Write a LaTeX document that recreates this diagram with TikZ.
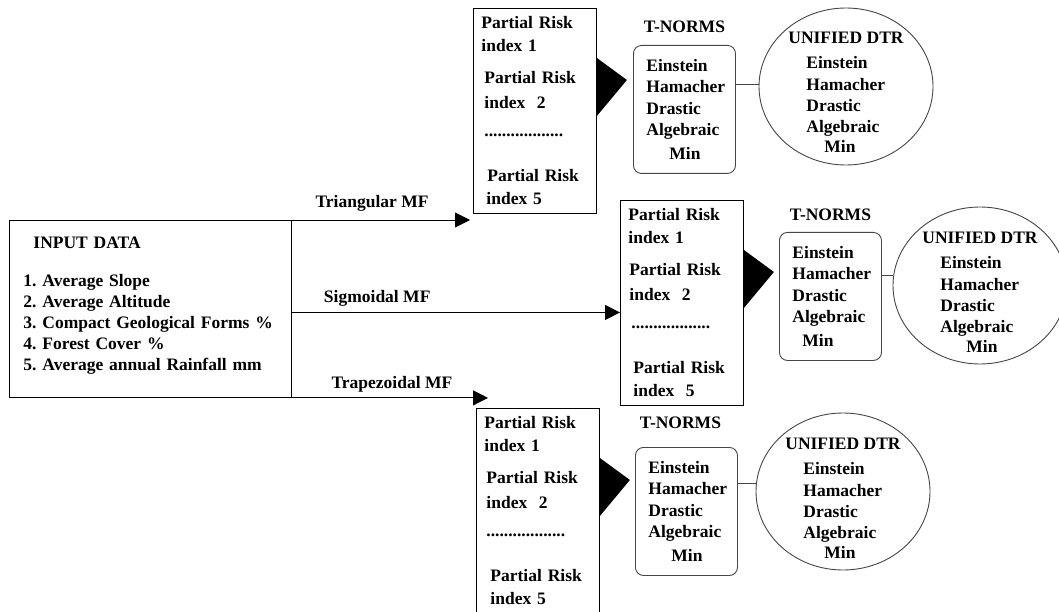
\documentclass[tikz,border=0pt]{standalone}
\usepackage{fontspec}
\setmainfont{Liberation Serif}
\usepackage{tikz}
\usetikzlibrary{positioning,arrows.meta,shapes.geometric,calc}
\definecolor{LineGray}{RGB}{70,70,70}
\definecolor{DarkText}{RGB}{0,0,0}
\frenchspacing

\begin{document}
\begin{tikzpicture}[x=1pt, y=1pt,
    every node/.style={font=\fontsize{17.5}{23}\selectfont\bfseries, text=DarkText},
    datbox/.style={rectangle, draw=black, line width=0.9pt, anchor=north west,
        minimum width=282pt, minimum height=177pt, text width=254pt, inner xsep=14pt,
        inner ysep=0pt, align=left, font=\fontsize{17.5}{21}\selectfont\bfseries},
    pribox/.style={rectangle, draw=black, line width=0.9pt, anchor=north west,
        minimum width=123pt, minimum height=205pt, text width=107pt, inner xsep=8pt,
        inner ysep=0pt, align=left},
    tnbox/.style={rectangle, rounded corners=8pt, draw=LineGray, line width=0.9pt, anchor=north west,
        minimum width=102pt, minimum height=128pt, text width=76pt, inner xsep=13pt,
        inner ysep=0pt, align=left, font=\fontsize{17.5}{21.5}\selectfont\bfseries},
    tnlab/.style={inner sep=2pt},
    dtrring/.style={ellipse, draw=LineGray, line width=0.9pt, minimum width=174pt,
        minimum height=157pt, inner sep=0pt},
    dtrtext/.style={inner sep=0pt, align=left, font=\fontsize{17.5}{21}\selectfont\bfseries},
    mflab/.style={inner sep=2pt},
    link/.style={draw=LineGray, line width=0.9pt},
    arr/.style={draw=black, line width=0.9pt, -{Triangle[length=15pt, width=15pt]}}
]
\useasboundingbox (0,0) rectangle (1059,-612);

% input data
\node[datbox] (inp) at (9,-220) {\hspace*{10pt}INPUT DATA\\[17pt]
1. Average Slope\\
2. Average Altitude\\
3. Compact Geological Forms \%\\
4. Forest Cover \%\\
5. Average annual Rainfall mm\rule[-11pt]{0pt}{0pt}};

% partial risk indices
\node[pribox] (pri1) at (473,-8) {Partial Risk\\
index 1\\[9pt]
\hspace*{3pt}Partial Risk\\[2pt]
\hspace*{3pt}index\ \ 2\\[5pt]
\hspace*{3pt}..................\\[22pt]
\hspace*{6pt}Partial Risk\\
\hspace*{5pt}index 5};
\node[pribox] (pri2) at (620,-200) {Partial Risk\\
index 1\\[9pt]
\hspace*{1pt}Partial Risk\\[2pt]
\hspace*{1pt}index\ \ 2\\[5pt]
\hspace*{3pt}..................\\[22pt]
\hspace*{5pt}Partial Risk\\
\hspace*{5pt}index\ \ 5};
\node[pribox] (pri3) at (476,-408) {Partial Risk\\
index 1\\[9pt]
\hspace*{2pt}Partial Risk\\[2pt]
\hspace*{2pt}index\ \ 2\\[5pt]
\hspace*{2pt}..................\\[22pt]
\hspace*{6pt}Partial Risk\\
\hspace*{6pt}index 5};

% t-norms
\node[tnbox] (tn1) at (633,-45) {Einstein\\ Hamacher\\ Drastic\\ Algebraic\\[2.5pt] \hspace*{23pt}Min};
\node[tnbox] (tn2) at (779,-232) {Einstein\\ Hamacher\\ Drastic\\ Algebraic\\[2.5pt] \hspace*{10pt}Min};
\node[tnbox] (tn3) at (635,-447) {Einstein\\ Hamacher\\ Drastic\\ Algebraic\\[2.5pt] \hspace*{23pt}Min};
\node[tnlab, above=10pt of tn1] (tn1lab) {T-NORMS};
\node[tnlab, above=9pt of tn2] (tn2lab) {T-NORMS};
\node[tnlab, above=16pt of tn3, xshift=-6pt] (tn3lab) {T-NORMS};

% unified dtr
\node[dtrring] (dtr1) at (846,-86.5) {};
\node[dtrring] (dtr2) at (980,-285.5) {};
\node[dtrring] (dtr3) at (843,-491.5) {};
\node[dtrtext] (dtr1txt) at (dtr1) {\rule{0pt}{24pt}UNIFIED DTR\\[4pt]
\hspace*{18pt}Einstein\\[1pt] \hspace*{18pt}Hamacher\\ \hspace*{18pt}Drastic\\
\hspace*{18pt}Algebraic\\[-1pt] \hspace*{36pt}Min};
\node[dtrtext] (dtr2txt) at (dtr2) {\rule{0pt}{24pt}UNIFIED DTR\\[4pt]
\hspace*{18pt}Einstein\\[1pt] \hspace*{18pt}Hamacher\\ \hspace*{18pt}Drastic\\
\hspace*{18pt}Algebraic\\[-1pt] \hspace*{44pt}Min};
\node[dtrtext] (dtr3txt) at (dtr3) {\rule{0pt}{24pt}UNIFIED DTR\\[4pt]
\hspace*{18pt}Einstein\\[1pt] \hspace*{18pt}Hamacher\\ \hspace*{18pt}Drastic\\
\hspace*{18pt}Algebraic\\[-1pt] \hspace*{39pt}Min};

% membership function arrows
\coordinate (triEnd) at ([xshift=-3pt]inp.north east -| pri1.west);
\coordinate (sigEnd) at ([yshift=-3.5pt]inp.east -| pri2.west);
\coordinate (trapEnd) at ([xshift=12pt]inp.south east -| pri3.west);
\draw[arr] (inp.north east) -- (triEnd) node[mflab, above=6pt, pos=0.45] (triLab) {Triangular MF};
\draw[arr] ([yshift=-3.5pt]inp.east) -- (sigEnd) node[mflab, above=4pt, pos=0.26] (sigLab) {Sigmoidal MF};
\draw[arr] (inp.south east) -- (trapEnd) node[mflab, above=3pt, pos=0.51] (trapLab) {Trapezoidal MF};

% black pointers into the t-norm boxes
\foreach \b in {pri1,pri2,pri3}
  \fill ([yshift=-50pt]\b.north east) -- ([shift={(30pt,-72pt)}]\b.north east)
    -- ([yshift=-108pt]\b.north east) -- cycle;

\foreach \t/\d/\o in {tn1/dtr1/39pt, tn2/dtr2/43pt, tn3/dtr3/36pt}
  \draw[link] ([yshift=-\o]\t.north east) -- ([yshift=-\o]\t.north east -| \d.west);
\end{tikzpicture}
\end{document}
